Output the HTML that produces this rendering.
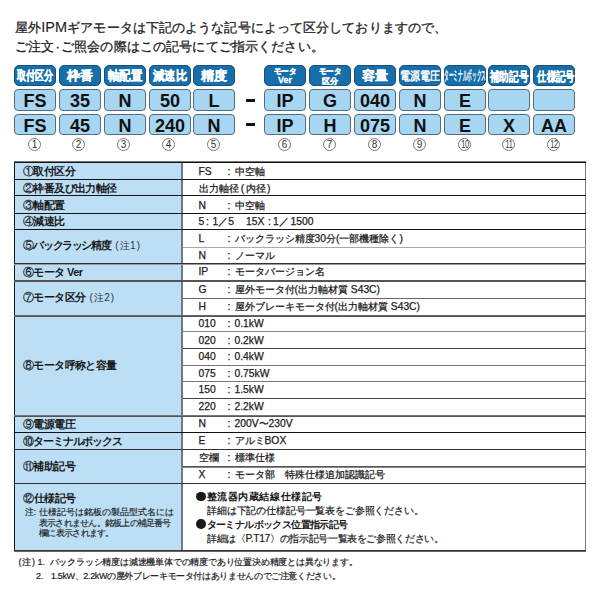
<!DOCTYPE html>
<html lang="ja"><head><meta charset="utf-8">
<style>
*{margin:0;padding:0;box-sizing:border-box}
html,body{width:600px;height:600px;background:#fff;overflow:hidden}
body{position:relative;font-family:"Liberation Sans",sans-serif;color:#1a1a1a}
.a{position:absolute;white-space:nowrap}
.intro{font-size:13px;line-height:13px;color:#222;-webkit-text-stroke:0.3px #222}
.hd{position:absolute;top:65px;height:21px;width:42px;background:#166fab;border:1px solid #1d4e74;border-radius:5px;color:#fff;font-weight:bold;text-align:center}
.hd span{position:absolute;left:50%;top:0;white-space:nowrap;transform-origin:center;-webkit-text-stroke:0.3px #fff}
.vb{position:absolute;height:21px;width:42px;background:#a6d6f2;border:1px solid #566b7d;border-radius:4px;color:#111;font-weight:bold;font-size:18px;line-height:19px;padding-top:2px;text-align:center}
.cn{position:absolute;top:138px;width:13px;height:13px;border:1px solid #777;border-radius:50%;font-size:10px;line-height:11px;text-align:center;color:#333;letter-spacing:-0.3px}
.hl{position:absolute;left:14px;width:572px;height:1px;background:#151515}
.sl{position:absolute;left:183px;width:403px;height:1px;background:#333}
.nt{font-size:9px;line-height:12px;color:#222;-webkit-text-stroke:0.2px #222}
.nn{font-size:9px;line-height:10.7px;color:#222;-webkit-text-stroke:0.15px #222}
.dot{display:inline-block;width:9.5px;height:9.5px;border-radius:50%;background:#1a1a1a;margin-right:1px;vertical-align:-1px}
.cm{font-weight:normal;font-size:10px;letter-spacing:0;color:#2a3440}
.cc{font-weight:normal;-webkit-text-stroke:0.2px #1a1a1a}
.lt{position:absolute;left:23px;font-size:11px;letter-spacing:-0.6px;font-weight:bold;color:#1a1a1a;white-space:nowrap}
.r{position:absolute;left:198.5px;font-size:10.3px;line-height:12px;color:#1a1a1a;white-space:nowrap;-webkit-text-stroke:0.25px #1a1a1a}
.r .k{display:inline-block;width:29px}
.r .c{display:inline-block;width:7px}
</style></head><body>
<div class="a intro" style="left:15px;top:21px;letter-spacing:0.1px">屋外<span style="font-size:14.5px;-webkit-text-stroke:0.1px #222">IPM</span>ギアモータは下記のような記号によって区分しておりますので、</div>
<div class="a intro" style="left:15px;top:40px;letter-spacing:0.15px">ご注文<span style="margin:0 1px">·</span>ご照会の際はこの記号にてご指示ください。</div>

<!-- header boxes -->
<div class="hd" style="left:14px"><span style="font-size:13px;line-height:19px;transform:translateX(-50%) scaleX(0.7)">取付区分</span></div>
<div class="hd" style="left:59px"><span style="font-size:13px;line-height:20px;transform:translateX(-50%)">枠番</span></div>
<div class="hd" style="left:104px"><span style="font-size:13px;line-height:19px;transform:translateX(-50%) scaleX(0.88)">軸配置</span></div>
<div class="hd" style="left:149px"><span style="font-size:13px;line-height:19px;transform:translateX(-50%) scaleX(0.87)">減速比</span></div>
<div class="hd" style="left:193px"><span style="font-size:13px;line-height:20px;transform:translateX(-50%)">精度</span></div>
<div class="hd" style="left:264px"><span style="font-size:8px;line-height:8px;top:1.5px;transform:translateX(-50%) scaleX(0.95)">モータ</span><span style="font-size:9px;line-height:9px;top:10px;transform:translateX(-50%)">Ver</span></div>
<div class="hd" style="left:309px"><span style="font-size:8px;line-height:8px;top:1.5px;transform:translateX(-50%) scaleX(0.95)">モータ</span><span style="font-size:8px;line-height:9px;top:10.5px;transform:translateX(-50%)">区分</span></div>
<div class="hd" style="left:354px"><span style="font-size:12.5px;line-height:21px;transform:translateX(-50%);letter-spacing:-0.3px">容量</span></div>
<div class="hd" style="left:399px"><span style="font-size:12px;line-height:21px;transform:translateX(-50%) scaleX(0.83);font-weight:normal;-webkit-text-stroke:0.45px #fff">電源電圧</span></div>
<div class="hd" style="left:444px"><span style="font-size:13.5px;line-height:20px;transform:translateX(-50%) scaleX(0.335);font-weight:normal;-webkit-text-stroke:0.5px #fff">ターミナルボックス</span></div>
<div class="hd" style="left:488px"><span style="font-size:12.5px;line-height:22px;transform:translateX(-50%) scaleX(0.74)">補助記号</span></div>
<div class="hd" style="left:533px"><span style="font-size:12.5px;line-height:22px;left:calc(50% + 1.5px);transform:translateX(-50%) scaleX(0.72)">仕様記号</span></div>

<!-- value row 1 -->
<div class="vb" style="left:14px;top:89px;height:22px">FS</div>
<div class="vb" style="left:59px;top:89px;height:22px">35</div>
<div class="vb" style="left:104px;top:89px;height:22px">N</div>
<div class="vb" style="left:149px;top:89px;height:22px">50</div>
<div class="vb" style="left:193px;top:89px;height:22px">L</div>
<div class="vb" style="left:264px;top:89px;height:22px">IP</div>
<div class="vb" style="left:309px;top:89px;height:22px">G</div>
<div class="vb" style="left:354px;top:89px;height:22px">040</div>
<div class="vb" style="left:399px;top:89px;height:22px">N</div>
<div class="vb" style="left:444px;top:89px;height:22px">E</div>
<div class="vb" style="left:488px;top:89px;height:22px"></div>
<div class="vb" style="left:533px;top:89px;height:22px"></div>
<!-- value row 2 -->
<div class="vb" style="left:14px;top:114px">FS</div>
<div class="vb" style="left:59px;top:114px">45</div>
<div class="vb" style="left:104px;top:114px">N</div>
<div class="vb" style="left:149px;top:114px">240</div>
<div class="vb" style="left:193px;top:114px">N</div>
<div class="vb" style="left:264px;top:114px">IP</div>
<div class="vb" style="left:309px;top:114px">H</div>
<div class="vb" style="left:354px;top:114px">075</div>
<div class="vb" style="left:399px;top:114px">N</div>
<div class="vb" style="left:444px;top:114px">E</div>
<div class="vb" style="left:488px;top:114px">X</div>
<div class="vb" style="left:533px;top:114px">AA</div>
<!-- dashes -->
<div class="a" style="left:246px;top:99px;width:9px;height:3px;background:#111"></div>
<div class="a" style="left:246px;top:123px;width:9px;height:3px;background:#111"></div>

<!-- circled numbers -->
<div class="cn" style="left:28px">1</div>
<div class="cn" style="left:72px">2</div>
<div class="cn" style="left:117px">3</div>
<div class="cn" style="left:162px">4</div>
<div class="cn" style="left:207px">5</div>
<div class="cn" style="left:278px">6</div>
<div class="cn" style="left:323px">7</div>
<div class="cn" style="left:368px">8</div>
<div class="cn" style="left:413px">9</div>
<div class="cn" style="left:458px"><span style="position:absolute;left:50%;top:0;transform:translateX(-50%) scaleX(0.72);letter-spacing:-0.4px">10</span></div>
<div class="cn" style="left:502px"><span style="position:absolute;left:50%;top:0;transform:translateX(-50%) scaleX(0.72);letter-spacing:-0.4px">11</span></div>
<div class="cn" style="left:547px"><span style="position:absolute;left:50%;top:0;transform:translateX(-50%) scaleX(0.72);letter-spacing:-0.4px">12</span></div>

<!-- table -->
<div class="a" style="left:15px;top:162px;width:166px;height:388px;background:#bcdff6"></div>
<div class="a" style="left:14px;top:162px;width:1px;height:389px;background:#151515"></div>
<div class="a" style="left:181px;top:162px;width:2px;height:389px;background:#6b7b89"></div>
<div class="a" style="left:585px;top:162px;width:1px;height:389px;background:#777"></div>
<div class="hl" style="top:161px;background:#777"></div>
<div class="hl" style="top:162px"></div>
<div class="hl" style="top:179px"></div>
<div class="hl" style="top:195px"></div>
<div class="hl" style="top:213px"></div>
<div class="hl" style="top:229px"></div>
<div class="sl" style="top:247px;background:#aaa"></div>
<div class="hl" style="top:263px;background:#333"></div>
<div class="hl" style="top:264px;background:#999"></div>
<div class="hl" style="top:280px;background:#555"></div>
<div class="hl" style="top:281px;background:#555"></div>
<div class="sl" style="top:298px;background:#666"></div>
<div class="hl" style="top:315px;background:#666"></div>
<div class="hl" style="top:316px;background:#555"></div>
<div class="sl" style="top:331px;background:#888"></div>
<div class="sl" style="top:348px;background:#444"></div>
<div class="sl" style="top:365px;background:#777"></div>
<div class="sl" style="top:381px;background:#777"></div>
<div class="sl" style="top:398px;background:#444"></div>
<div class="hl" style="top:415px;background:#777"></div>
<div class="hl" style="top:416px;background:#555"></div>
<div class="hl" style="top:432px;background:#111"></div>
<div class="hl" style="top:449px;background:#333"></div>
<div class="sl" style="top:466px;background:#555"></div>
<div class="sl" style="top:467px;background:#888"></div>
<div class="hl" style="top:483px;background:#333"></div>
<div class="hl" style="top:550px;background:#333"></div>
<div class="hl" style="top:551px;background:#666"></div>

<!-- left column text -->
<div class="lt" style="top:164px"><span class="cc">①</span>取付区分</div>
<div class="lt" style="top:181px"><span class="cc">②</span>枠番及び出力軸径</div>
<div class="lt" style="top:198px"><span class="cc">③</span>軸配置</div>
<div class="lt" style="top:214px"><span class="cc">④</span>減速比</div>
<div class="lt" style="top:238px"><span class="cc">⑤</span><span style="letter-spacing:-1.4px">バックラッシ精度</span><span class="cm" style="margin-left:5px">(<span style="margin:0 1px 0 1.5px">注1</span>)</span></div>
<div class="lt" style="top:265px"><span class="cc">⑥</span>モータ Ver</div>
<div class="lt" style="top:290px"><span class="cc">⑦</span>モータ区分<span class="cm" style="margin-left:4px">(<span style="margin:0 1px 0 1.5px">注2</span>)</span></div>
<div class="lt" style="top:358px"><span class="cc">⑧</span>モータ呼称と容量</div>
<div class="lt" style="top:417px"><span class="cc">⑨</span>電源電圧</div>
<div class="lt" style="top:434px"><span class="cc">⑩</span><span style="letter-spacing:-1.2px">ターミナルボックス</span></div>
<div class="lt" style="top:459px"><span class="cc">⑪</span>補助記号</div>
<div class="lt" style="top:491px;font-size:11px;letter-spacing:-0.5px"><span class="cc">⑫</span>仕様記号</div>
<div class="a nn" style="left:24.5px;top:507px">注:</div>
<div class="a nn" style="left:39px;top:507px">仕様記号は銘板の製品型式名には</div>
<div class="a nn" style="left:39px;top:517.7px;letter-spacing:-0.77px">表示されません。銘板上の補足番号</div>
<div class="a nn" style="left:39px;top:528.4px;letter-spacing:-0.7px">欄に表示されます。</div>

<!-- right column text -->
<div class="r" style="top:166px"><span class="k">FS</span><span class="c">:</span>中空軸</div>
<div class="r" style="top:183px;letter-spacing:0.3px">出力軸径<span style="margin:0 1.5px 0 1px">(</span>内径<span style="margin-left:0.5px">)</span></div>
<div class="r" style="top:200px"><span class="k">N</span><span class="c">:</span>中空軸</div>
<div class="r" style="top:216px">5</div><div class="r" style="top:216px;left:206px">:</div><div class="r" style="top:216px;left:212.5px">1／5</div>
<div class="r" style="top:216px;left:246px">15X</div><div class="r" style="top:216px;left:268px">:</div><div class="r" style="top:216px;left:273px">1／</div><div class="r" style="top:216px;left:290.5px">1500</div>
<div class="r" style="top:233px"><span class="k">L</span><span class="c">:</span>バックラッシ精度30分(一部機種除く)</div>
<div class="r" style="top:250px"><span class="k">N</span><span class="c">:</span>ノーマル</div>
<div class="r" style="top:266px"><span class="k">IP</span><span class="c">:</span>モータバージョン名</div>
<div class="r" style="top:284px"><span class="k">G</span><span class="c">:</span>屋外モータ付(出力軸材質 S43C)</div>
<div class="r" style="top:301px"><span class="k">H</span><span class="c">:</span>屋外ブレーキモータ付(出力軸材質 S43C)</div>
<div class="r" style="top:318px"><span class="k">010</span><span class="c">:</span>0.1kW</div>
<div class="r" style="top:335px"><span class="k">020</span><span class="c">:</span>0.2kW</div>
<div class="r" style="top:351px"><span class="k">040</span><span class="c">:</span>0.4kW</div>
<div class="r" style="top:368px"><span class="k">075</span><span class="c">:</span>0.75kW</div>
<div class="r" style="top:384px"><span class="k">150</span><span class="c">:</span>1.5kW</div>
<div class="r" style="top:401px"><span class="k">220</span><span class="c">:</span>2.2kW</div>
<div class="r" style="top:418px"><span class="k">N</span><span class="c">:</span>200V〜230V</div>
<div class="r" style="top:435px"><span class="k">E</span><span class="c">:</span>アルミBOX</div>
<div class="r" style="top:452px"><span class="k">空欄</span><span class="c">:</span>標準仕様</div>
<div class="r" style="top:469px"><span class="k">X</span><span class="c">:</span>モータ部　特殊仕様追加認識記号</div>
<div class="a" style="left:196px;top:490px;font-size:10.3px;line-height:13.9px;color:#1a1a1a">
<div style="font-weight:bold;letter-spacing:0.6px"><i class="dot"></i>整流器内蔵結線仕様記号</div>
<div style="padding-left:11px;letter-spacing:-0.15px;-webkit-text-stroke:0.2px #1a1a1a">詳細は下記の仕様記号一覧表をご参照ください。</div>
<div style="font-weight:bold;letter-spacing:-0.6px"><i class="dot"></i>ターミナルボックス位置指示記号</div>
<div style="padding-left:11px;letter-spacing:-0.35px;-webkit-text-stroke:0.2px #1a1a1a">詳細は〈P.T17〉の指示記号一覧表をご参照ください。</div>
</div>

<!-- notes -->
<div class="a nt" style="left:18.5px;top:556px;letter-spacing:0.8px">(注)</div>
<div class="a nt" style="left:37.5px;top:556px">1.</div>
<div class="a nt" style="left:49.5px;top:556px;letter-spacing:-0.2px">バックラッシ精度は減速機単体での精度であり位置決め精度とは異なります。</div>
<div class="a nt" style="left:36px;top:570px">2.</div>
<div class="a nt" style="left:51px;top:570px;letter-spacing:-0.36px">1.5kW、2.2kWの屋外ブレーキモータ付はありませんのでご注意ください。</div>
</body></html>
